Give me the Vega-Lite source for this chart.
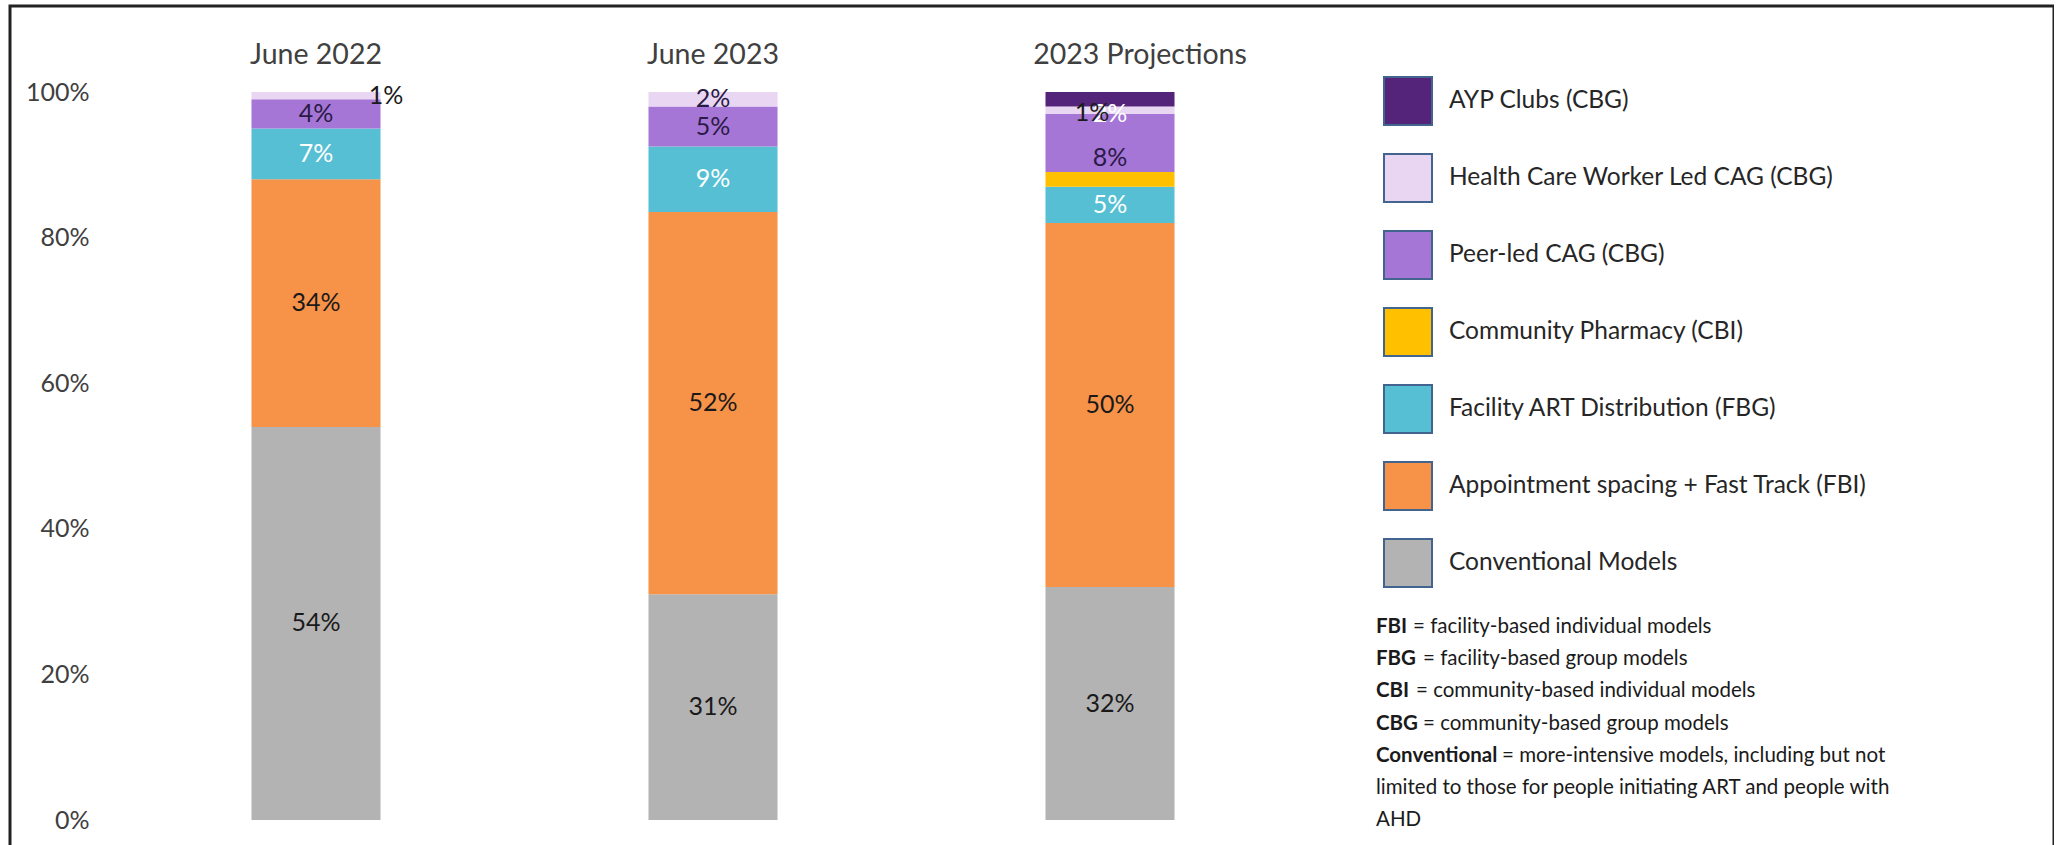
{
  "$schema": "https://vega.github.io/schema/vega-lite/v6.json",
  "width": 2044,
  "height": 845,
  "padding": {"left": 10, "top": 6, "right": 0, "bottom": 0},
  "config": {
    "font": "Lato",
    "view": {"stroke": "#222222", "strokeWidth": 3},
    "axis": {"grid": false}
  },
  "layer": [
    {
      "data": {
        "values": [
          {"period": "June 2022", "model": "Conventional Models", "rank": 1, "value": 54, "label": "54%"},
          {"period": "June 2022", "model": "Appointment spacing + Fast Track (FBI)", "rank": 2, "value": 34, "label": "34%"},
          {"period": "June 2022", "model": "Facility ART Distribution (FBG)", "rank": 3, "value": 7, "label": "7%"},
          {"period": "June 2022", "model": "Peer-led CAG (CBG)", "rank": 5, "value": 4, "label": "4%"},
          {"period": "June 2022", "model": "Health Care Worker Led CAG (CBG)", "rank": 6, "value": 1, "label": "1%"},
          {"period": "June 2023", "model": "Conventional Models", "rank": 1, "value": 31, "label": "31%"},
          {"period": "June 2023", "model": "Appointment spacing + Fast Track (FBI)", "rank": 2, "value": 52.5, "label": "52%"},
          {"period": "June 2023", "model": "Facility ART Distribution (FBG)", "rank": 3, "value": 9, "label": "9%"},
          {"period": "June 2023", "model": "Peer-led CAG (CBG)", "rank": 5, "value": 5.5, "label": "5%"},
          {"period": "June 2023", "model": "Health Care Worker Led CAG (CBG)", "rank": 6, "value": 2, "label": "2%"},
          {"period": "2023 Projections", "model": "Conventional Models", "rank": 1, "value": 32, "label": "32%"},
          {"period": "2023 Projections", "model": "Appointment spacing + Fast Track (FBI)", "rank": 2, "value": 50, "label": "50%"},
          {"period": "2023 Projections", "model": "Facility ART Distribution (FBG)", "rank": 3, "value": 5, "label": "5%"},
          {"period": "2023 Projections", "model": "Community Pharmacy (CBI)", "rank": 4, "value": 2},
          {"period": "2023 Projections", "model": "Peer-led CAG (CBG)", "rank": 5, "value": 8, "label": "8%"},
          {"period": "2023 Projections", "model": "Health Care Worker Led CAG (CBG)", "rank": 6, "value": 1, "label": "1%"},
          {"period": "2023 Projections", "model": "AYP Clubs (CBG)", "rank": 7, "value": 2, "label": "2%"}
        ]
      },
      "layer": [
        {
          "mark": {"type": "bar"},
          "encoding": {
            "x": {
              "field": "period", "type": "nominal", "sort": null,
              "scale": {"range": [107.5, 1298.5], "paddingInner": 0.675, "paddingOuter": 0.3375},
              "axis": {
                "orient": "top", "offset": -57, "title": null, "labelAngle": 0, "domain": false, "ticks": false, "tickSize": 0,
                "labelPadding": 0, "labelBaseline": "alphabetic", "labelFontSize": 28.5, "labelColor": "#404040", "labelLimit": 500,
                "labelOffset": {"condition": {"test": "datum.value === '2023 Projections'", "value": 30}, "value": 0}
              }
            },
            "y": {
              "field": "value", "type": "quantitative", "stack": "zero",
              "scale": {"domain": [0, 100], "range": [814, 86], "nice": false},
              "axis": {"orient": "left", "offset": -80, "title": null, "values": [0, 20, 40, 60, 80, 100], "labelExpr": "datum.value + '%'", "domain": false, "ticks": false, "tickSize": 0, "labelPadding": 1, "labelFontSize": 25, "labelColor": "#404040"}
            },
            "color": {
              "field": "model", "type": "nominal",
              "scale": {
                "domain": ["AYP Clubs (CBG)", "Health Care Worker Led CAG (CBG)", "Peer-led CAG (CBG)", "Community Pharmacy (CBI)", "Facility ART Distribution (FBG)", "Appointment spacing + Fast Track (FBI)", "Conventional Models"],
                "range": ["#54237a", "#e8d6f3", "#a676d6", "#ffc000", "#56bfd3", "#f79249", "#b3b3b3"]
              },
              "legend": {
                "orient": "none", "legendX": 1373, "legendY": 70, "title": null,
                "symbolType": "square", "symbolSize": 2304, "symbolStrokeColor": "#42648f", "symbolStrokeWidth": 2, "symbolOpacity": 1,
                "labelFontSize": 24.5, "labelColor": "#262626", "labelOffset": 16, "rowPadding": 21, "labelLimit": 700
              }
            },
            "order": {"field": "rank", "type": "quantitative"}
          }
        },
        {
          "transform": [{"filter": "isValid(datum.label)"}],
          "mark": {"type": "text", "fontSize": 25, "baseline": "middle"},
          "encoding": {
            "x": {"field": "period", "type": "nominal", "sort": null},
            "y": {"field": "value", "type": "quantitative", "stack": "zero", "bandPosition": 0.5},
            "detail": {"field": "model"},
            "order": {"field": "rank", "type": "quantitative"},
            "text": {
              "condition": {"test": "datum.model === 'Health Care Worker Led CAG (CBG)' && datum.period !== 'June 2023'", "value": " "},
              "field": "label"
            },
            "color": {
              "condition": [
                {"test": "datum.model === 'Facility ART Distribution (FBG)' || datum.model === 'AYP Clubs (CBG)'", "value": "#ffffff"},
                {"test": "datum.model === 'Peer-led CAG (CBG)' || datum.model === 'Health Care Worker Led CAG (CBG)'", "value": "#2a1a47"}
              ],
              "value": "#1a1a1a"
            }
          }
        },
        {
          "transform": [
            {"stack": "value", "groupby": ["period"], "sort": [{"field": "rank", "order": "ascending"}], "as": ["y0", "y1"]},
            {"filter": "datum.model === 'Health Care Worker Led CAG (CBG)' && datum.period === 'June 2022'"}
          ],
          "mark": {"type": "text", "fontSize": 25, "baseline": "middle", "dx": 70, "dy": 4, "color": "#1a1a1a"},
          "encoding": {
            "x": {"field": "period", "type": "nominal", "sort": null},
            "y": {"field": "y1", "type": "quantitative"},
            "text": {"field": "label"}
          }
        },
        {
          "transform": [
            {"stack": "value", "groupby": ["period"], "sort": [{"field": "rank", "order": "ascending"}], "as": ["y0", "y1"]},
            {"filter": "datum.model === 'Health Care Worker Led CAG (CBG)' && datum.period === '2023 Projections'"}
          ],
          "mark": {"type": "text", "fontSize": 25, "baseline": "middle", "dx": -18, "dy": 6, "color": "#1a1a1a"},
          "encoding": {
            "x": {"field": "period", "type": "nominal", "sort": null},
            "y": {"field": "y1", "type": "quantitative"},
            "text": {"field": "label"}
          }
        }
      ]
    },
    {
      "data": {
        "values": [
          {"line": 1, "kind": "def", "term": "FBI", "rest": "= facility-based individual models"},
          {"line": 2, "kind": "def", "term": "FBG", "rest": "= facility-based group models"},
          {"line": 3, "kind": "def", "term": "CBI", "rest": "= community-based individual models"},
          {"line": 4, "kind": "def", "term": "CBG", "rest": "= community-based group models"},
          {"line": 5, "kind": "def", "term": "Conventional", "rest": "= more-intensive models, including but not"},
          {"line": 6, "kind": "cont", "rest": "limited to those for people initiating ART and people with"},
          {"line": 7, "kind": "cont", "rest": "AHD"}
        ]
      },
      "layer": [
        {
          "transform": [{"filter": {"field": "kind", "equal": "def"}}],
          "mark": {"type": "text", "align": "left", "baseline": "middle", "fontSize": 20.5, "fontWeight": "bold", "color": "#1a1a1a"},
          "encoding": {
            "x": {"datum": 0, "type": "quantitative", "scale": {"domain": [0, 1], "range": [1366, 2040]}, "axis": null},
            "y": {"field": "line", "type": "ordinal", "scale": {"type": "point", "range": [621, 814], "padding": 0}, "axis": null},
            "text": {"field": "term"}
          }
        },
        {
          "transform": [{"filter": {"field": "term", "equal": "FBI"}}],
          "mark": {"type": "text", "align": "left", "baseline": "middle", "fontSize": 20.5, "dx": 37, "color": "#1a1a1a"},
          "encoding": {
            "x": {"datum": 0, "type": "quantitative"},
            "y": {"field": "line", "type": "ordinal"},
            "text": {"field": "rest"}
          }
        },
        {
          "transform": [{"filter": {"field": "term", "equal": "CBI"}}],
          "mark": {"type": "text", "align": "left", "baseline": "middle", "fontSize": 20.5, "dx": 40, "color": "#1a1a1a"},
          "encoding": {
            "x": {"datum": 0, "type": "quantitative"},
            "y": {"field": "line", "type": "ordinal"},
            "text": {"field": "rest"}
          }
        },
        {
          "transform": [{"filter": {"field": "term", "oneOf": ["FBG", "CBG"]}}],
          "mark": {"type": "text", "align": "left", "baseline": "middle", "fontSize": 20.5, "dx": 47, "color": "#1a1a1a"},
          "encoding": {
            "x": {"datum": 0, "type": "quantitative"},
            "y": {"field": "line", "type": "ordinal"},
            "text": {"field": "rest"}
          }
        },
        {
          "transform": [{"filter": {"field": "term", "equal": "Conventional"}}],
          "mark": {"type": "text", "align": "left", "baseline": "middle", "fontSize": 20.5, "dx": 126, "color": "#1a1a1a"},
          "encoding": {
            "x": {"datum": 0, "type": "quantitative"},
            "y": {"field": "line", "type": "ordinal"},
            "text": {"field": "rest"}
          }
        },
        {
          "transform": [{"filter": {"field": "kind", "equal": "cont"}}],
          "mark": {"type": "text", "align": "left", "baseline": "middle", "fontSize": 20.5, "color": "#1a1a1a"},
          "encoding": {
            "x": {"datum": 0, "type": "quantitative"},
            "y": {"field": "line", "type": "ordinal"},
            "text": {"field": "rest"}
          }
        }
      ]
    }
  ],
  "resolve": {"scale": {"x": "independent", "y": "independent"}}
}
